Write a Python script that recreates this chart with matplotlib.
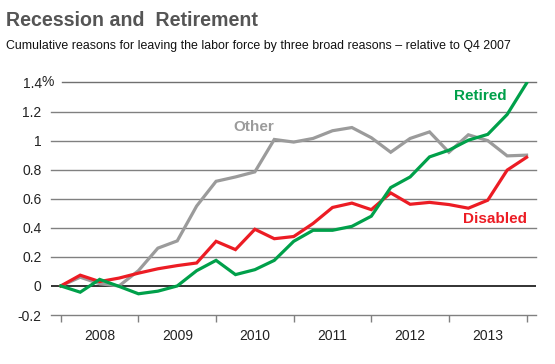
import numpy as np
import matplotlib.pyplot as plt

# quarterly values, Q4 2007 .. Q4 2013 (percent, relative to Q4 2007)
retired = [0.0, -0.043, 0.045, -0.003, -0.054, -0.036, 0.0, 0.105, 0.176, 0.078, 0.112,
           0.176, 0.307, 0.383, 0.383, 0.41, 0.48, 0.677, 0.75, 0.888, 0.934, 1.003,
           1.043, 1.18, 1.395]
disabled = [0.0, 0.074, 0.03, 0.054, 0.088, 0.118, 0.14, 0.158, 0.307, 0.25, 0.39,
            0.325, 0.34, 0.43, 0.54, 0.57, 0.525, 0.64, 0.562, 0.575, 0.56, 0.535,
            0.59, 0.797, 0.885]
other = [0.0, 0.06, 0.015, 0.0, 0.105, 0.26, 0.31, 0.55, 0.72, 0.75, 0.785,
         1.008, 0.99, 1.015, 1.068, 1.09, 1.02, 0.92, 1.015, 1.06, 0.92, 1.04,
         1.0, 0.895, 0.90]
years = ["2008", "2009", "2010", "2011", "2012", "2013"]
y_ticks = [-0.2, 0, 0.2, 0.4, 0.6, 0.8, 1, 1.2, 1.4]
y_labels = ["-0.2", "0", "0.2", "0.4", "0.6", "0.8", "1", "1.2", "1.4"]

green = "#00a04a"
red = "#ec1c24"
grey = "#9b9b9b"

plt.rcParams["font.family"] = ["Liberation Sans", "DejaVu Sans"]

fig = plt.figure(figsize=(5.55, 3.64), dpi=100)
ax = fig.add_axes([0.0914, 0.1346, 0.8738, 0.6388])

x = np.arange(len(retired))
ax.set_xlim(-0.52, 24.47)
ax.set_ylim(-0.2, 1.4)

# gridlines (the top one starts a bit later, after the % sign)
for v in y_ticks:
    if v == 1.4:
        ax.axhline(v, xmin=0.0233, color="#707070", lw=1, zorder=1, clip_on=False)
    elif v == 0:
        ax.axhline(v, color="#222222", lw=1.3, zorder=1)
    else:
        ax.axhline(v, color="#808080", lw=1, zorder=1, clip_on=False)

ax.plot(x, other, color=grey, lw=2.3, zorder=3, solid_joinstyle="miter")
ax.plot(x, disabled, color=red, lw=2.3, zorder=4, solid_joinstyle="miter")
ax.plot(x, retired, color=green, lw=2.3, zorder=5, solid_joinstyle="miter")

ax.text(9.96, 1.095, "Other", color=grey, fontsize=11, fontweight="bold", ha="center", va="center")
ax.text(21.6, 1.307, "Retired", color=green, fontsize=11, fontweight="bold", ha="center", va="center")
ax.text(22.37, 0.463, "Disabled", color=red, fontsize=11, fontweight="bold", ha="center", va="center")

for s in ax.spines.values():
    s.set_visible(False)

ax.set_yticks(y_ticks)
ax.set_yticklabels(y_labels)
ax.tick_params(axis="y", length=0, pad=6.5, labelsize=10, labelcolor="#222222")
ax.annotate("%", xy=(0, 1.4), xycoords=("axes fraction", "data"), xytext=(-6.6, 0),
            textcoords="offset points", ha="left", va="center", fontsize=10, color="#222222")

ax.set_xticks(np.arange(0, 25, 4))
ax.set_xticklabels([])
ax.set_xticks(np.arange(2, 24, 4), minor=True)
ax.set_xticklabels(years, minor=True)
ax.tick_params(axis="x", which="major", length=5, width=1, color="#808080", direction="out")
ax.tick_params(axis="x", which="minor", length=0, pad=10, labelsize=10, labelcolor="#222222")

fig.text(0.011, 0.945, "Recession and  Retirement", fontsize=14.1, fontweight="bold",
         color="#555555", ha="left", va="center")
fig.text(0.011, 0.873, "Cumulative reasons for leaving the labor force by three broad reasons \u2013 relative to Q4 2007",
         fontsize=8.9, color="#111111", ha="left", va="center")

fig.savefig("out.png", dpi=100)
